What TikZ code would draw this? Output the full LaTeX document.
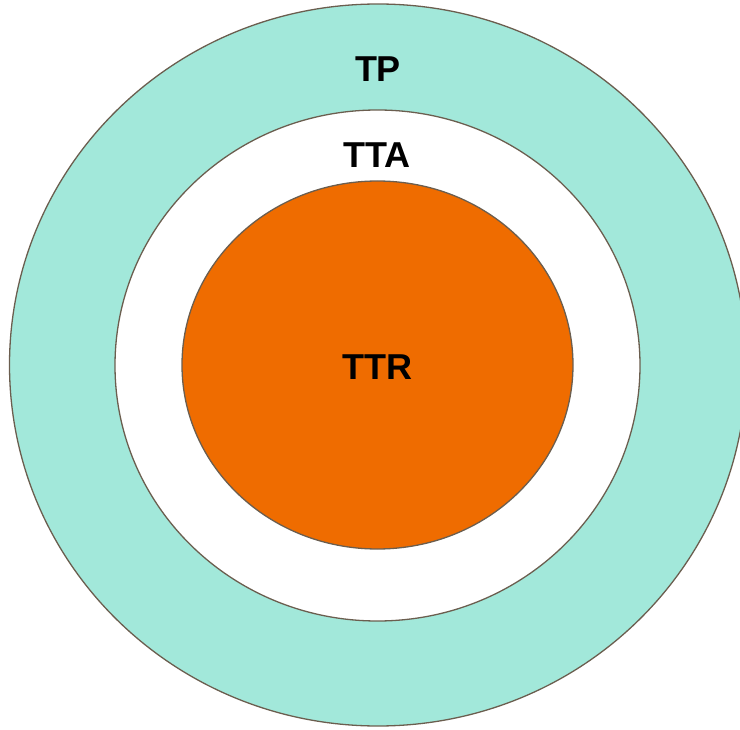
\documentclass[tikz,border=0pt]{standalone}
\usepackage{fontspec}
\setmainfont{Liberation Sans}
\definecolor{ringteal}{HTML}{A2E8DA}
\definecolor{coreorange}{HTML}{EF6C00}
\definecolor{edgegray}{HTML}{6B5E4F}
\begin{document}
\begin{tikzpicture}[x=1pt,y=-1pt,
  ring/.style={draw=edgegray,line width=1.3pt},
  lbl/.style={font=\fontsize{36}{40}\selectfont\bfseries,text=black,inner sep=0pt}]
\clip (0,0) rectangle (740,730);
\useasboundingbox (0,0) rectangle (740,730);
\draw[ring,fill=ringteal] (378,365) ellipse [x radius=368.5,y radius=361];
\draw[ring,fill=white] (377.5,365.5) ellipse [x radius=262.5,y radius=255.5];
\draw[ring,fill=coreorange] (377.5,365) ellipse [x radius=195.5,y radius=184];
\node[lbl] (tp) at (378,69) {TP};
\node[lbl] (tta) at (377,155) {TTA};
\node[lbl] (ttr) at (377,367) {TTR};
\end{tikzpicture}
\end{document}
